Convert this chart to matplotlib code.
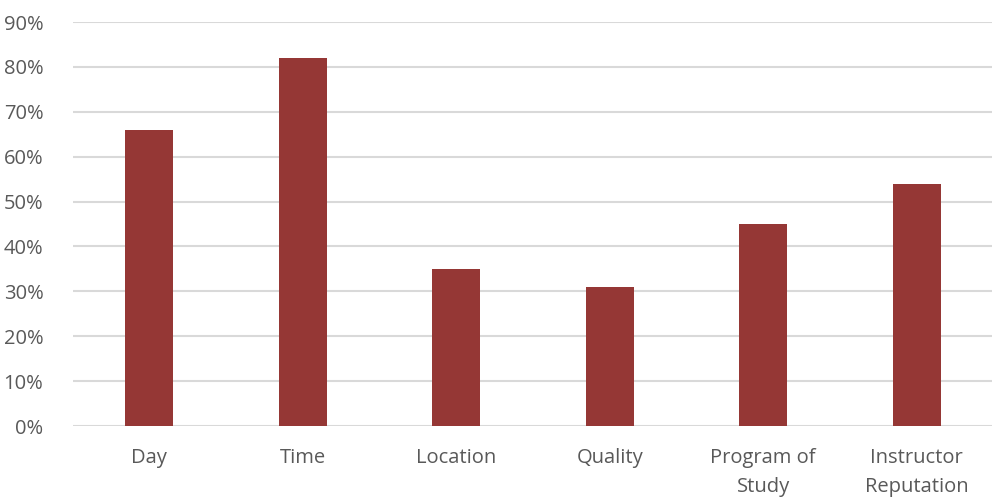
import matplotlib
matplotlib.use("Agg")
import matplotlib.pyplot as plt
from matplotlib.ticker import FuncFormatter

categories = ["Day", "Time", "Location", "Quality", "Program of\nStudy", "Instructor\nReputation"]
values = [66, 82, 35, 31, 45, 54]
yticks = [0, 10, 20, 30, 40, 50, 60, 70, 80, 90]

plt.rcParams['font.family'] = ['Open Sans', 'DejaVu Sans']

fig = plt.figure(figsize=(9.92, 4.98), dpi=100)
ax = fig.add_axes([72.5 / 992, (498 - 426) / 498, 921 / 992, 404 / 498])

x = list(range(len(categories)))
ax.bar(x, values, width=0.313, color="#953735", zorder=3)

ax.set_xlim(-0.5, len(categories) - 0.5)
ax.set_ylim(0, 90)
ax.set_yticks(yticks)
ax.yaxis.set_major_formatter(FuncFormatter(lambda v, p: f"{int(v)}%"))
ax.set_xticks(x)
ax.set_xticklabels(categories, linespacing=1.6)

ax.grid(axis="y", color="#d9d9d9", linewidth=1.5, zorder=0)
for s in ax.spines.values():
    s.set_visible(False)
ax.tick_params(axis="both", length=0, labelsize=14.5, colors="#595959")
ax.tick_params(axis="y", pad=21)
ax.tick_params(axis="x", pad=16)

fig.savefig("out.png", dpi=100)
